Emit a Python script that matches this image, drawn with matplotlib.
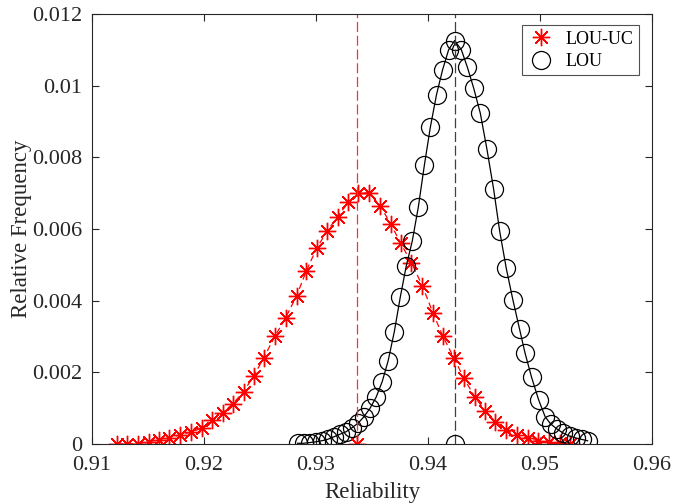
import matplotlib
matplotlib.use("Agg")
import matplotlib.pyplot as plt
from matplotlib.lines import Line2D

plt.rcParams['font.family'] = ['Liberation Serif', 'DejaVu Serif']
plt.rcParams['mathtext.fontset'] = 'stix'

# LOU-UC (red asterisks)
uc_x = [0.9122, 0.91315, 0.91413, 0.91511, 0.91600, 0.91690, 0.91785, 0.91880,
        0.91981, 0.92073, 0.92166, 0.92260, 0.92353, 0.92445, 0.92534, 0.92632,
        0.92730, 0.92826, 0.92915, 0.93007, 0.93099, 0.93192, 0.93287, 0.93376,
        0.93474, 0.93575, 0.93667, 0.93757, 0.93852, 0.93950, 0.94045, 0.94134,
        0.94230, 0.94321, 0.94417, 0.94509, 0.94601, 0.94700, 0.94794, 0.94892,
        0.94981, 0.95077, 0.95175, 0.95264]
uc_y = [0.0, 0.0, 0.00001, 0.00006, 0.00011, 0.00018, 0.00025, 0.00033,
        0.00044, 0.00067, 0.00087, 0.00113, 0.00146, 0.00190, 0.00241, 0.00300,
        0.00353, 0.00413, 0.00484, 0.00547, 0.00594, 0.00634, 0.00674, 0.00700,
        0.00701, 0.00664, 0.00614, 0.00560, 0.00506, 0.00441, 0.00365, 0.00300,
        0.00241, 0.00183, 0.00132, 0.00093, 0.00062, 0.00039, 0.00025, 0.00016,
        0.00009, 0.00005, 0.00002, 0.0]

# LOU (black circles)
lou_x = [0.92835, 0.92889, 0.92943, 0.92996, 0.93051, 0.93104, 0.93159, 0.93212,
         0.93267, 0.93320, 0.93375, 0.93428, 0.93483, 0.93536, 0.93591, 0.93644,
         0.93699, 0.93752, 0.93806, 0.93860, 0.93914, 0.93968, 0.94022, 0.94076,
         0.94130, 0.94184, 0.94238, 0.94298, 0.94352, 0.94408, 0.94467, 0.94526,
         0.94586, 0.94640, 0.94699, 0.94758, 0.94818, 0.94867, 0.94925, 0.94988,
         0.95046, 0.95095, 0.95151, 0.95204, 0.95264, 0.95318, 0.95371, 0.95425]
lou_y = [0.00002, 0.00002, 0.00004, 0.00006, 0.00009, 0.00013, 0.00020, 0.00027,
         0.00034, 0.00045, 0.00058, 0.00076, 0.00100, 0.00130, 0.00174, 0.00232,
         0.00313, 0.00409, 0.00497, 0.00567, 0.00662, 0.00779, 0.00886, 0.00975,
         0.01044, 0.01100, 0.01126, 0.01100, 0.01051, 0.00993, 0.00923, 0.00823,
         0.00711, 0.00594, 0.00490, 0.00402, 0.00320, 0.00253, 0.00186, 0.00123,
         0.00076, 0.00056, 0.00042, 0.00031, 0.00022, 0.00017, 0.00013, 0.00009]

# mean values (dashed vertical lines)
uc_mean = 0.9337
lou_mean = 0.94238

xticks = [0.91, 0.92, 0.93, 0.94, 0.95, 0.96]
xtick_labels = ['0.91', '0.92', '0.93', '0.94', '0.95', '0.96']
yticks = [0, 0.002, 0.004, 0.006, 0.008, 0.01, 0.012]
ytick_labels = ['0', '0.002', '0.004', '0.006', '0.008', '0.01', '0.012']

fig = plt.figure(figsize=(6.73, 5.03), dpi=100)
ax = fig.add_axes([0.1367, 0.1173, 0.8321, 0.8549])

ast = (8, 2, 0)
dash = (8, 3)
ax.plot(uc_x, uc_y, color='red', lw=0.9, dashes=(5, 3), marker=ast, ms=12.5,
        mew=1.0)
ax.plot(lou_x, lou_y, '-', color='black', lw=0.9, marker='o', ms=13,
        mfc='none', mec='black', mew=0.9)

ax.plot([uc_mean, uc_mean], [0, 0.012], color='#ff3030', lw=0.9, dashes=dash)
ax.plot([lou_mean, lou_mean], [0, 0.012], color='#404040', lw=0.9, dashes=dash)
ax.plot([uc_mean], [0], ls='none', color='red', marker=ast, ms=12.5, mew=1.0)
ax.plot([lou_mean], [0], ls='none', marker='o', ms=13, mfc='none',
        mec='black', mew=0.9)

ax.set_xlim(0.91, 0.96)
ax.set_ylim(0, 0.012)
ax.set_xticks(xticks)
ax.set_xticklabels(xtick_labels)
ax.set_yticks(yticks)
ax.set_yticklabels(ytick_labels)
ax.tick_params(direction='in', top=True, right=True, labelsize=16,
               colors='#262626', length=5, width=0.8)
ax.tick_params(axis='x', pad=8.5)
ax.tick_params(axis='y', pad=7)
for s in ax.spines.values():
    s.set_color('#262626')
    s.set_linewidth(0.8)

ax.set_xlabel('Reliability', fontsize=16.5, color='#262626', labelpad=5)
ax.set_ylabel('Relative Frequency', fontsize=16.5, color='#262626', labelpad=0)

handles = [Line2D([], [], ls='none', color='red', marker=ast, ms=12.5, mew=1.0),
           Line2D([], [], ls='none', marker='o', ms=13, mfc='none',
                  mec='black', mew=0.9)]
leg = ax.legend(handles, ['LOU-UC', 'LOU'], loc='upper right',
                bbox_to_anchor=(0.977, 0.974), borderaxespad=0, fontsize=13,
                frameon=True, fancybox=False, handlelength=1.5,
                handletextpad=0.6, borderpad=0.3, labelspacing=0.3)
leg.get_frame().set_edgecolor('#262626')
leg.get_frame().set_linewidth(0.8)

fig.savefig('out.png', dpi=100)
